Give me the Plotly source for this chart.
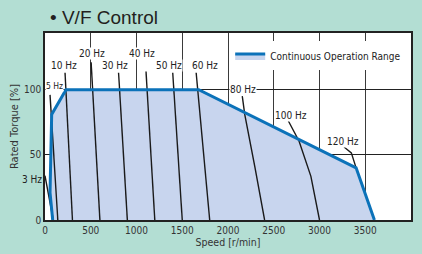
import plotly.graph_objects as go

# ---- data (speed r/min, torque %) ----
range_speed = [84, 55, 73, 229, 1680, 3400, 3600]
range_torque = [0, 21, 81, 100, 100, 40, 0]

freq_labels = ["3 Hz", "5 Hz", "10 Hz", "20 Hz", "30 Hz", "40 Hz", "50 Hz", "60 Hz", "80 Hz", "100 Hz", "120 Hz"]
curve_speed = [
    [0, 90],
    [55, 140],
    [219, 300],
    [504, 600],
    [804, 900],
    [1104, 1200],
    [1396, 1500],
    [1652, 1800],
    [2156, 2183, 2293, 2400],
    [2660, 2777, 2906, 3000],
    [3268, 3348, 3400],
]
curve_torque = [
    [34, 0],
    [96, 0],
    [113, 0],
    [121, 0],
    [113, 0],
    [114, 0],
    [113, 0],
    [113, 0],
    [95, 81, 41, 0],
    [76, 60.5, 33.5, 0],
    [56, 51.5, 40],
]
label_speed = [-142, 87, 213, 519, 764, 1059, 1354, 1747, 2162, 2686, 3253]
label_torque = [31, 103, 118.4, 127.6, 118.4, 127.6, 118.4, 118.4, 100, 80, 60.3]

x_ticks = [0, 500, 1000, 1500, 2000, 2500, 3000, 3500, 4000]
y_ticks = [0, 50, 100]

BLUE = "#0b72b9"
FILL = "#c8d5ee"
BG = "#b3ded3"
NARROW = "Liberation Sans Narrow, DejaVu Sans Condensed, sans-serif"

X_MIN, X_MAX = 0, 4000
fig = go.Figure()

# fill region as a shape between gridlines and traces
path = "M " + " L ".join(f"{s},{t}" for s, t in zip(range_speed, range_torque)) + " Z"
fig.add_shape(type="path", path=path, xref="x", yref="y",
              fillcolor=FILL, line=dict(width=0), layer="between")

# frequency curves
for sx, ty in zip(curve_speed, curve_torque):
    fig.add_trace(go.Scatter(x=sx, y=ty, mode="lines",
                             line=dict(color="#1a1a1a", width=1.4),
                             showlegend=False, hoverinfo="skip"))

# continuous operation range outline
fig.add_trace(go.Scatter(x=range_speed, y=range_torque, mode="lines",
                         line=dict(color=BLUE, width=3), showlegend=False))

# legend entry
fig.add_trace(go.Scatter(x=[None, None, None], y=[None, None, None], mode="lines",
                         fill="toself", fillcolor=FILL,
                         line=dict(color=BLUE, width=3),
                         name="Continuous Operation Range"))

for lab, sx, ty in zip(freq_labels, label_speed, label_torque):
    if lab == "3 Hz":
        # sits in the left margin, outside the axis range
        fig.add_annotation(xref="paper", yref="y",
                           x=(sx - X_MIN) / (X_MAX - X_MIN), y=ty,
                           text=lab, showarrow=False, xanchor="center",
                           font=dict(family=NARROW, size=10, color="#222"))
    elif lab == "5 Hz":
        fig.add_annotation(x=sx, y=ty, text=lab, showarrow=False,
                           xanchor="center", bgcolor="white", borderpad=0,
                           xshift=2,
                           font=dict(family=NARROW, size=8.5, color="#222"))
    else:
        fig.add_annotation(x=sx, y=ty, text=lab, showarrow=False,
                           bgcolor="white", borderpad=0,
                           font=dict(family=NARROW, size=10, color="#222"))

fig.add_annotation(xref="paper", yref="paper", x=0.008, y=1.085,
                   xanchor="left", yanchor="middle", showarrow=False,
                   text="• V/F Control",
                   font=dict(family="Liberation Sans, Arial, sans-serif", size=19, color="#231f20"))

fig.update_layout(
    width=422, height=254,
    margin=dict(l=45, r=11, t=33, b=34, autoexpand=False),
    paper_bgcolor=BG, plot_bgcolor="white",
    legend=dict(x=0.506, y=0.955, xanchor="left", yanchor="top",
                bgcolor="white", borderwidth=0,
                font=dict(family=NARROW, size=10, color="#222"),
                itemwidth=30),
    xaxis=dict(range=[X_MIN, X_MAX], tickvals=x_ticks, showgrid=True, automargin=False,
               gridcolor="#3a3a3a", gridwidth=1, zeroline=False,
               showline=True, mirror=True, linecolor="#222", linewidth=1.5,
               ticks="", tickfont=dict(family=NARROW, size=10, color="#333"),
               title=dict(text="Speed [r/min]", standoff=2,
                          font=dict(family=NARROW, size=10.5, color="#333"))),
    yaxis=dict(range=[0, 143.5], tickvals=y_ticks, showgrid=True, automargin=False,
               gridcolor="#222", gridwidth=1, zeroline=False,
               showline=True, mirror=True, linecolor="#222", linewidth=1.5,
               ticks="", tickfont=dict(family=NARROW, size=10, color="#333"),
               title=dict(text="Rated Torque [%]", standoff=3,
                          font=dict(family=NARROW, size=11, color="#333"))),
)

fig.write_html("out.html", config={"displayModeBar": False},
               post_script="document.body.style.margin='0';document.body.style.padding='0';")
